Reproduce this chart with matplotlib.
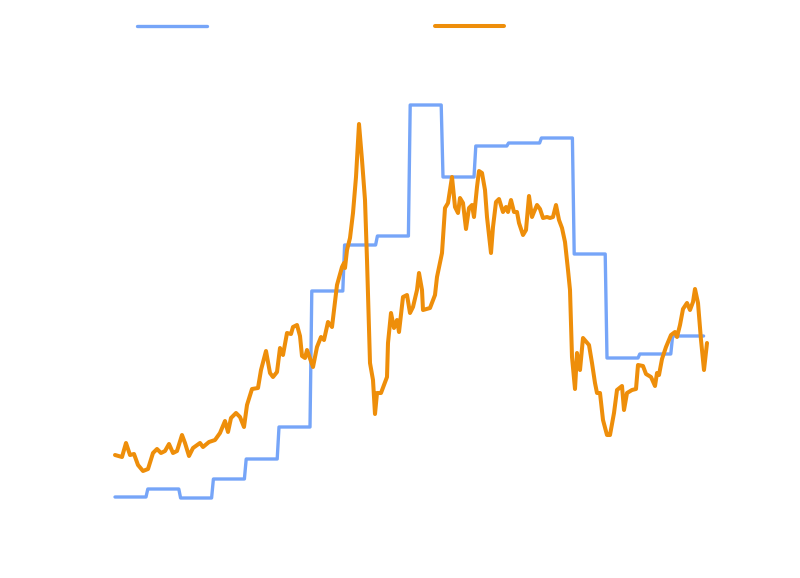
import matplotlib
matplotlib.use("Agg")
import matplotlib.pyplot as plt
import numpy as np

# 时间步长 (每期约 32.8 步)
PERIOD_LEN = 32.8

# 蓝色: 每期一个值
blue_vals = [81, 89, 80, 99, 119, 151, 287, 333, 342, 473, 401, 432, 435, 440, 324, 220, 224, 242]

# 橙色: (时间步, 数值)
orange_t = [0, 7, 11, 15, 19, 23, 28, 33, 38, 42, 46, 50, 54, 58, 62, 67, 70, 74, 78, 85,
            88, 94, 100, 105, 110, 113, 116, 121, 125, 129, 132, 137, 143, 146, 151, 155, 158, 162, 165, 168,
            172, 176, 178, 182, 185, 187, 190, 192, 198, 202, 206, 209, 213, 217, 220, 222, 227, 229, 230, 232,
            235, 238, 241, 244, 247, 250, 252, 255, 258, 260, 262, 266, 272, 273, 276, 279, 282, 284, 288, 292,
            295, 298, 302, 304, 307, 308, 315, 320, 322, 327, 330, 333, 337, 340, 343, 345, 348, 351, 354, 357,
            359, 362, 364, 367, 370, 372, 376, 378, 381, 384, 388, 391, 393, 396, 399, 402, 404, 408, 411, 414,
            417, 419, 422, 425, 428, 432, 435, 438, 441, 444, 447, 450, 453, 455, 457, 460, 462, 465, 468, 474,
            477, 480, 482, 485, 488, 492, 495, 499, 502, 507, 509, 512, 517, 521, 523, 528, 531, 536, 540, 542,
            544, 547, 551, 556, 560, 562, 565, 568, 572, 575, 578, 580, 583, 586, 589, 592]
orange_vals = [123, 121, 135, 123, 124, 113, 107, 109, 125, 129, 125, 127, 134, 125, 127, 143, 135, 122, 130, 135,
               131, 136, 138, 145, 157, 146, 160, 165, 161, 151, 173, 189, 190, 208, 227, 205, 201, 206, 230, 223,
               245, 244, 251, 253, 242, 222, 220, 228, 211, 231, 241, 238, 256, 251, 276, 293, 311, 315, 310, 328,
               340, 365, 401, 454, 418, 378, 318, 215, 198, 164, 185, 185, 201, 235, 265, 250, 258, 246, 281, 283,
               265, 271, 288, 305, 288, 268, 270, 283, 301, 325, 370, 375, 401, 371, 365, 380, 375, 349, 370, 373,
               361, 391, 407, 405, 388, 361, 325, 351, 376, 379, 366, 371, 366, 378, 366, 366, 355, 343, 348, 382,
               361, 366, 373, 369, 360, 361, 360, 361, 373, 358, 350, 336, 308, 288, 221, 189, 225, 208, 240, 233,
               215, 195, 185, 185, 158, 143, 143, 165, 188, 192, 168, 185, 188, 189, 213, 212, 204, 201, 192, 205,
               203, 219, 231, 243, 246, 241, 253, 269, 275, 268, 276, 289, 275, 238, 208, 235]

BLUE = "#76A5F8"
ORANGE = "#EE8E0A"

# 蓝色阶梯: 每期起止两个点
blue_x, blue_y = [], []
for i, v in enumerate(blue_vals):
    blue_x += [i * PERIOD_LEN, i * PERIOD_LEN + 31]
    blue_y += [v, v]

fig = plt.figure(figsize=(8, 5.78), dpi=100)
ax = fig.add_axes([0, 0, 1, 1])
ax.plot(blue_x, blue_y, color=BLUE, linewidth=2.4, label=" ", solid_capstyle="round")
ax.plot(orange_t, orange_vals, color=ORANGE, linewidth=2.9, label=" ",
        solid_joinstyle="round", solid_capstyle="round")
ax.set_xlim(-115, 685)
ax.set_ylim(0, 578)
ax.axis("off")

fig.legend(loc="upper left", bbox_to_anchor=(0.156, 0.987), ncol=2, frameon=False,
           handlelength=5, handletextpad=0.8, columnspacing=15.3, fontsize=10)

fig.savefig("out.png", dpi=100)
